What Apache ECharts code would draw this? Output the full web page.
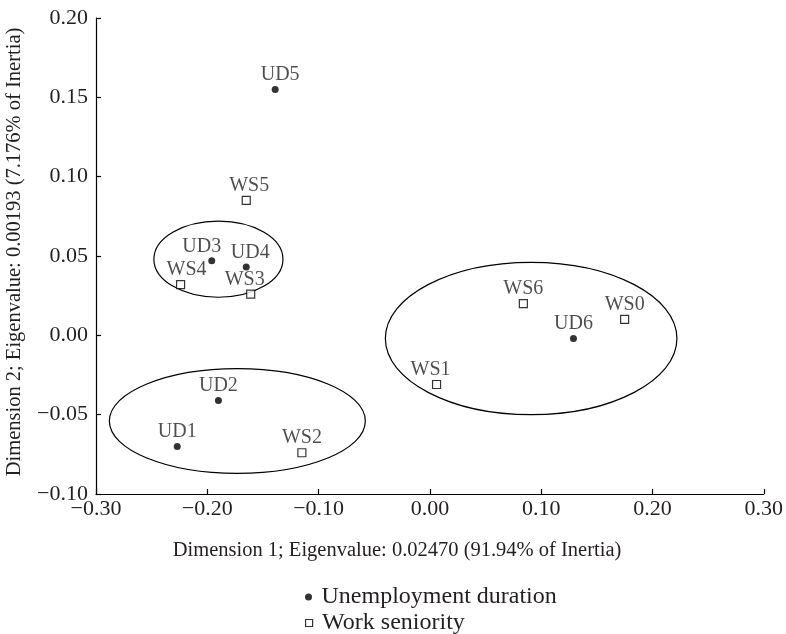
<!DOCTYPE html>
<html>
<head>
<meta charset="utf-8">
<script src="https://cdn.jsdelivr.net/npm/echarts@6/dist/echarts.min.js"></script>
<style>html,body{margin:0;padding:0;background:#fff}#c{width:786px;height:634px}</style>
</head>
<body>
<div id="c"></div>
<script>
// ---- data ----
const udNames = ['UD1','UD2','UD3','UD4','UD5','UD6'];
const udX = [-0.227, -0.190, -0.196, -0.165, -0.139, 0.129];
const udY = [-0.070, -0.041, 0.047, 0.043, 0.155, -0.002];

const wsNames = ['WS0','WS1','WS2','WS3','WS4','WS5','WS6'];
const wsX = [0.175, 0.006, -0.115, -0.161, -0.224, -0.165, 0.084];
const wsY = [0.010, -0.031, -0.074, 0.026, 0.032, 0.085, 0.020];

// cluster ellipses (data units): centre x, centre y, radius x, radius y
const ellCX = [-0.190, -0.173, 0.091];
const ellCY = [0.048, -0.054, -0.002];
const ellRX = [0.058, 0.115, 0.131];
const ellRY = [0.024, 0.033, 0.048];

const xTicks = [-0.30, -0.20, -0.10, 0.00, 0.10, 0.20, 0.30];
const yTicks = [-0.10, -0.05, 0.00, 0.05, 0.10, 0.15, 0.20];

const seriesNames = ['Unemployment duration', 'Work seniority'];
const xTitle = 'Dimension 1; Eigenvalue: 0.02470 (91.94% of Inertia)';
const yTitle = 'Dimension 2; Eigenvalue: 0.00193 (7.176% of Inertia)';

// ---- chart ----
const FONT = '"Liberation Serif", "DejaVu Serif", serif';
const TXT = '#231f20';
const fmt = v => (v < 0 ? '\u2212' : '') + Math.abs(v).toFixed(2);
const labelNudge = {UD3: -10, WS3: -6, WS1: -6, WS4: 6, UD5: 5, WS5: 3, UD4: 4};

const chart = echarts.init(document.getElementById('c'));
const mkPts = (names, xs, ys) => names.map((n, i) => ({
  name: n, value: [xs[i], ys[i]],
  label: {offset: [labelNudge[n] || 0, 0]}
}));

const legendCommon = {
  orient: 'vertical', left: 300, itemWidth: 16, itemHeight: 7,
  symbolKeepAspect: true,
  textStyle: {fontFamily: FONT, fontSize: 24, color: TXT}
};

chart.setOption({
  animation: false,
  grid: {left: 96, right: 21, top: 18, bottom: 140},
  xAxis: {
    type: 'value', min: xTicks[0], max: xTicks[xTicks.length - 1], interval: 0.1,
    axisLine: {show: true, onZero: false, lineStyle: {color: '#000', width: 1.2}},
    axisTick: {show: true, inside: true, length: 5, lineStyle: {color: '#000', width: 1.2}},
    splitLine: {show: false},
    axisLabel: {formatter: fmt, color: TXT, fontFamily: FONT, fontSize: 22, margin: 4}
  },
  yAxis: {
    type: 'value', min: yTicks[0], max: yTicks[yTicks.length - 1], interval: 0.05,
    axisLine: {show: true, onZero: false, lineStyle: {color: '#000', width: 1.2}},
    axisTick: {show: true, inside: true, length: 5, lineStyle: {color: '#000', width: 1.2}},
    splitLine: {show: false},
    axisLabel: {formatter: fmt, color: TXT, fontFamily: FONT, fontSize: 22, margin: 8}
  },
  graphic: [
    {type: 'text', x: 397, y: 551, style: {text: xTitle, fill: TXT, font: '20.5px ' + FONT, align: 'center', verticalAlign: 'middle'}},
    {type: 'text', rotation: Math.PI / 2, x: 15, y: 252, style: {text: yTitle, fill: TXT, font: '20.5px ' + FONT, align: 'center', verticalAlign: 'middle'}}
  ],
  legend: [
    Object.assign({}, legendCommon, {
      top: 580,
      data: [{name: seriesNames[0], icon: 'circle', itemStyle: {color: '#000'}}]
    }),
    Object.assign({}, legendCommon, {
      top: 606,
      data: [{name: seriesNames[1], icon: 'path://M0,0H10V10H0Z', itemStyle: {color: '#fff', borderColor: '#000', borderWidth: 1.2}}]
    })
  ],
  series: [
    {
      type: 'custom', name: 'clusters', silent: true,
      data: ellCX.map((cx, i) => [cx, ellCY[i], ellRX[i], ellRY[i]]),
      renderItem: (params, api) => {
        const c = api.coord([api.value(0), api.value(1)]);
        const s = api.size([api.value(2), api.value(3)]);
        return {type: 'ellipse', shape: {cx: c[0], cy: c[1], rx: s[0], ry: s[1]},
                style: {fill: 'none', stroke: '#000', lineWidth: 1.2}};
      },
      z: 1
    },
    {
      type: 'scatter', name: seriesNames[0], symbol: 'circle', symbolSize: 7,
      itemStyle: {color: '#000'},
      label: {show: true, position: 'top', distance: 1, formatter: '{b}', color: TXT, fontFamily: FONT, fontSize: 20},
      data: mkPts(udNames, udX, udY), z: 3
    },
    {
      type: 'scatter', name: seriesNames[1], symbol: 'rect', symbolSize: 8,
      itemStyle: {color: '#fff', borderColor: '#000', borderWidth: 1.2},
      label: {show: true, position: 'top', distance: 0, formatter: '{b}', color: TXT, fontFamily: FONT, fontSize: 20},
      data: mkPts(wsNames, wsX, wsY), z: 3
    }
  ]
});
</script>
</body>
</html>
